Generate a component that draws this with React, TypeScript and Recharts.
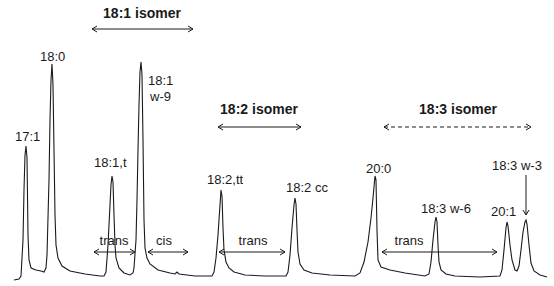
import React from "react";
import { LineChart, Line, XAxis, YAxis, ReferenceDot, ReferenceLine } from "recharts";

// retention time / detector signal
const retentionTime = [
  14, 19, 21, 23, 24, 25, 26, 27, 28, 29, 31, 36, 41, 44, 46, 47, 49, 50, 51, 52, 53, 54, 55, 56, 58, 62, 70, 85,
  100, 104, 106, 108, 110, 111, 112, 113, 114, 115, 116, 119, 124, 130, 133, 134, 136, 137, 138, 139, 140, 141,
  142, 143, 144, 145, 147, 150, 158, 170, 175, 177, 179, 195, 212, 214, 216, 218, 220, 221, 222, 223, 224, 226,
  229, 234, 245, 265, 286, 288, 290, 292, 294, 295, 296, 297, 298, 300, 304, 312, 330, 355, 360, 364, 368, 371,
  373, 375, 376, 377, 378, 381, 390, 405, 425, 429, 431, 433, 435, 436, 437, 438, 439, 441, 446, 455, 480, 500,
  502, 504, 506, 507, 508, 510, 512, 515, 517, 519, 521, 523, 525, 526, 527, 529, 531, 534, 540, 547,
];
const signal = [
  6, 7, 10, 46, 96, 131, 140, 128, 51, 26, 18, 16, 15, 14, 18, 31, 106, 166, 206, 222, 201, 136, 71, 41, 28, 20, 15, 12,
  10, 10, 14, 41, 81, 101, 110, 104, 71, 41, 28, 18, 13, 11, 13, 18, 46, 86, 136, 181, 214, 224,
  211, 146, 66, 38, 28, 22, 16, 13, 12, 14, 12, 10, 10, 14, 28, 51, 81, 96, 90, 58, 36, 24,
  18, 14, 11, 10, 10, 14, 31, 58, 81, 88, 82, 56, 34, 22, 16, 13, 11, 10, 13, 24, 44, 68,
  88, 110, 106, 56, 26, 19, 16, 13, 10, 12, 24, 46, 64, 69, 64, 41, 24, 16, 12, 10, 9, 10,
  16, 36, 58, 64, 60, 41, 26, 16, 15, 20, 36, 54, 64, 66, 62, 41, 23, 15, 11, 9,
];

const trace = retentionTime.map((t, i) => ({ t, s: signal[i] }));

// peak names
const peakNames = ["17:1", "18:0", "18:1,t", "18:1", "w-9", "18:2,tt", "18:2 cc", "20:0", "18:3 w-6", "20:1", "18:3 w-3"];
const isomerNames = ["18:1 isomer", "18:2 isomer", "18:3 isomer"];
const regionNames = ["trans", "cis", "trans", "trans"];

// where the annotations sit (left edge / baseline, in chart units)
const peakLabelPos = [
  [15, 145], [40, 225], [94, 119], [148, 201], [150, 185], [207, 102], [286, 94], [366, 113], [421, 73], [491, 70], [492, 116],
];
const isomerPos = [
  { x: 142, y: 268, from: 92, to: 193, ay: 257, dashed: false },
  { x: 259, y: 172, from: 218, to: 301, ay: 159, dashed: false },
  { x: 458, y: 172, from: 384, to: 531, ay: 159, dashed: true },
];
const regionPos = [
  { x: 114, y: 41, from: 94, to: 135 },
  { x: 164, y: 41, from: 148, to: 188 },
  { x: 253, y: 41, from: 219, to: 285 },
  { x: 409, y: 41, from: 382, to: 497 },
];

const FONT = "'Liberation Sans', Arial, sans-serif";
const INK = "#1a1a1a";

function arrowShape(dashed: boolean, heads: "both" | "end") {
  return (p: any) => {
    const { x1, y1, x2, y2 } = p;
    const dx = x2 - x1;
    const dy = y2 - y1;
    const len = Math.hypot(dx, dy) || 1;
    const ux = dx / len;
    const uy = dy / len;
    const hl = 5;
    const hw = 3;
    const head = (x: number, y: number, dir: number) => {
      const bx = x - dir * ux * hl;
      const by = y - dir * uy * hl;
      return `M${bx - uy * hw},${by + ux * hw}L${x},${y}L${bx + uy * hw},${by - ux * hw}`;
    };
    let d = head(x2, y2, 1);
    if (heads === "both") d += head(x1, y1, -1);
    return (
      <g>
        <line x1={x1} y1={y1} x2={x2} y2={y2} stroke={INK} strokeWidth={1} strokeDasharray={dashed ? "4 3" : undefined} />
        <path d={d} fill="none" stroke={INK} strokeWidth={1} />
      </g>
    );
  };
}

function textShape(value: string, size: number, bold: boolean, anchor: "start" | "middle") {
  return (p: any) => (
    <text x={p.cx} y={p.cy} fontFamily={FONT} fontSize={size} fontWeight={bold ? 700 : 400} fill={INK} textAnchor={anchor}>
      {value}
    </text>
  );
}

export default function App() {
  return (
    <div style={{ position: "absolute", left: 0, top: 0, width: 554, height: 286, background: "#fff" }}>
      <LineChart width={554} height={286} data={trace} margin={{ top: 0, right: 0, bottom: 0, left: 0 }}>
        <XAxis type="number" dataKey="t" domain={[0, 554]} hide />
        <YAxis type="number" domain={[0, 286]} hide />
        <Line type="linear" dataKey="s" stroke={INK} strokeWidth={1.1} dot={false} activeDot={false} isAnimationActive={false} />

        {peakNames.map((name, i) => (
          <ReferenceDot key={`p${i}`} x={peakLabelPos[i][0]} y={peakLabelPos[i][1]} r={0} ifOverflow="visible"
            shape={textShape(name, 13, false, "start")} />
        ))}

        {isomerNames.map((name, i) => (
          <ReferenceDot key={`i${i}`} x={isomerPos[i].x} y={isomerPos[i].y} r={0} ifOverflow="visible"
            shape={textShape(name, 14, true, "middle")} />
        ))}
        {isomerPos.map((a, i) => (
          <ReferenceLine key={`ia${i}`} segment={[{ x: a.from, y: a.ay }, { x: a.to, y: a.ay }]} ifOverflow="visible"
            shape={arrowShape(a.dashed, "both")} />
        ))}

        {regionNames.map((name, i) => (
          <ReferenceDot key={`r${i}`} x={regionPos[i].x} y={regionPos[i].y} r={0} ifOverflow="visible"
            shape={textShape(name, 13, false, "middle")} />
        ))}
        {regionPos.map((a, i) => (
          <ReferenceLine key={`ra${i}`} segment={[{ x: a.from, y: 34 }, { x: a.to, y: 34 }]} ifOverflow="visible"
            shape={arrowShape(false, "both")} />
        ))}

        {/* pointer from the 18:3 w-3 label down to its peak */}
        <ReferenceLine segment={[{ x: 526, y: 111 }, { x: 526, y: 71 }]} ifOverflow="visible" shape={arrowShape(false, "end")} />
      </LineChart>
    </div>
  );
}
